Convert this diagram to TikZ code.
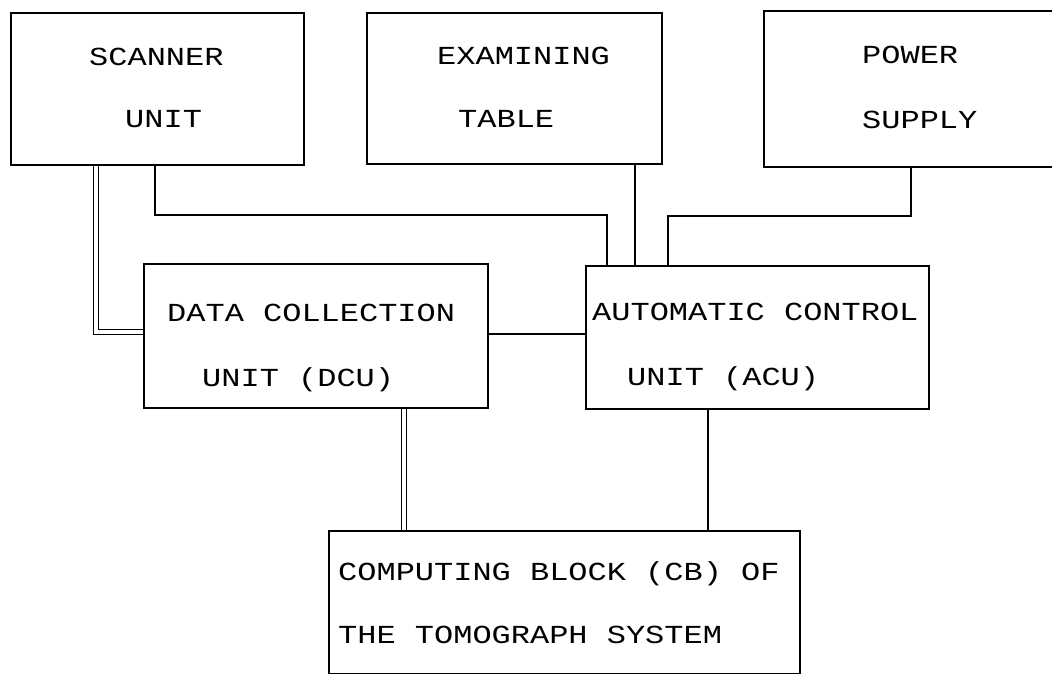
\documentclass[tikz,border=0pt]{standalone}
\usepackage{fontspec}
\newfontfamily\plotfont[FakeStretch=1.23]{Liberation Mono}
\usetikzlibrary{calc}
\begin{document}
\begin{tikzpicture}[x=1pt,y=-1pt,
  unitbox/.style={draw,line width=1.8pt,rectangle,inner sep=0pt,anchor=north west},
  lbl/.style={anchor=base west,inner sep=0pt,font=\plotfont\fontsize{26}{26}\selectfont},
  wire/.style={line width=1.8pt},
  dblwire/.style={line width=1.5pt,double=white,double distance=3.6pt}]
\clip (0,0) rectangle (1052,674);
\fill[white] (0,0) rectangle (1052,674);

% blocks
\node[unitbox,minimum width=293pt,minimum height=152pt] (scan) at (10,12) {};
\node[unitbox,minimum width=295pt,minimum height=151pt] (table) at (366,12) {};
\node[unitbox,minimum width=320pt,minimum height=156pt] (power) at (763,10) {};
\node[unitbox,minimum width=344pt,minimum height=144pt] (dcu) at (143,263) {};
\node[unitbox,minimum width=343pt,minimum height=143pt] (acu) at (585,265) {};
\node[unitbox,minimum width=471pt,minimum height=143pt] (cb) at (328,530) {};

% labels
\node[lbl] (scan1) at (89,66) {SCANNER};
\node[lbl] (scan2) at (125,128) {UNIT};
\node[lbl] (table1) at (437,65) {EXAMINING};
\node[lbl] (table2) at (458,128) {TABLE};
\node[lbl] (power1) at (862,64) {POWER};
\node[lbl] (power2) at (862,129) {SUPPLY};
\node[lbl] (dcu1) at (167,321) {DATA COLLECTION};
\node[lbl] (dcu2) at (202,386) {UNIT (DCU)};
\node[lbl] (acu1) at (592,320) {AUTOMATIC CONTROL};
\node[lbl] (acu2) at (627,385) {UNIT (ACU)};
\node[lbl] (cb1) at (338,580) {COMPUTING BLOCK (CB) OF};
\node[lbl] (cb2) at (338,643) {THE TOMOGRAPH SYSTEM};

% connections
\coordinate (s1) at ($(scan.south west)+(86,0)$);
\draw[dblwire] (s1) |- ($(dcu.west)+(0,-4)$);
\coordinate (s2) at ($(scan.south west)+(145,0)$);
\coordinate (a1) at ($(acu.north west)+(22,0)$);
\draw[wire] (s2) -- ++(0,49) -| (a1);
\coordinate (t1) at ($(table.south east)+(-28,0)$);
\draw[wire] (t1) -- (t1 |- acu.north);
\coordinate (p1) at ($(power.south west)+(148,0)$);
\coordinate (a2) at ($(acu.north west)+(83,0)$);
\draw[wire] (p1) -- ++(0,48) -| (a2);
\draw[wire] ($(dcu.east)+(0,-2)$) -- ($(dcu.east -| acu.west)+(0,-2)$);
\coordinate (d1) at ($(dcu.south west)+(261,0)$);
\draw[dblwire] (d1) -- (d1 |- cb.north);
\coordinate (a3) at ($(acu.south west)+(123,0)$);
\draw[wire] (a3) -- (a3 |- cb.north);
\end{tikzpicture}
\end{document}
